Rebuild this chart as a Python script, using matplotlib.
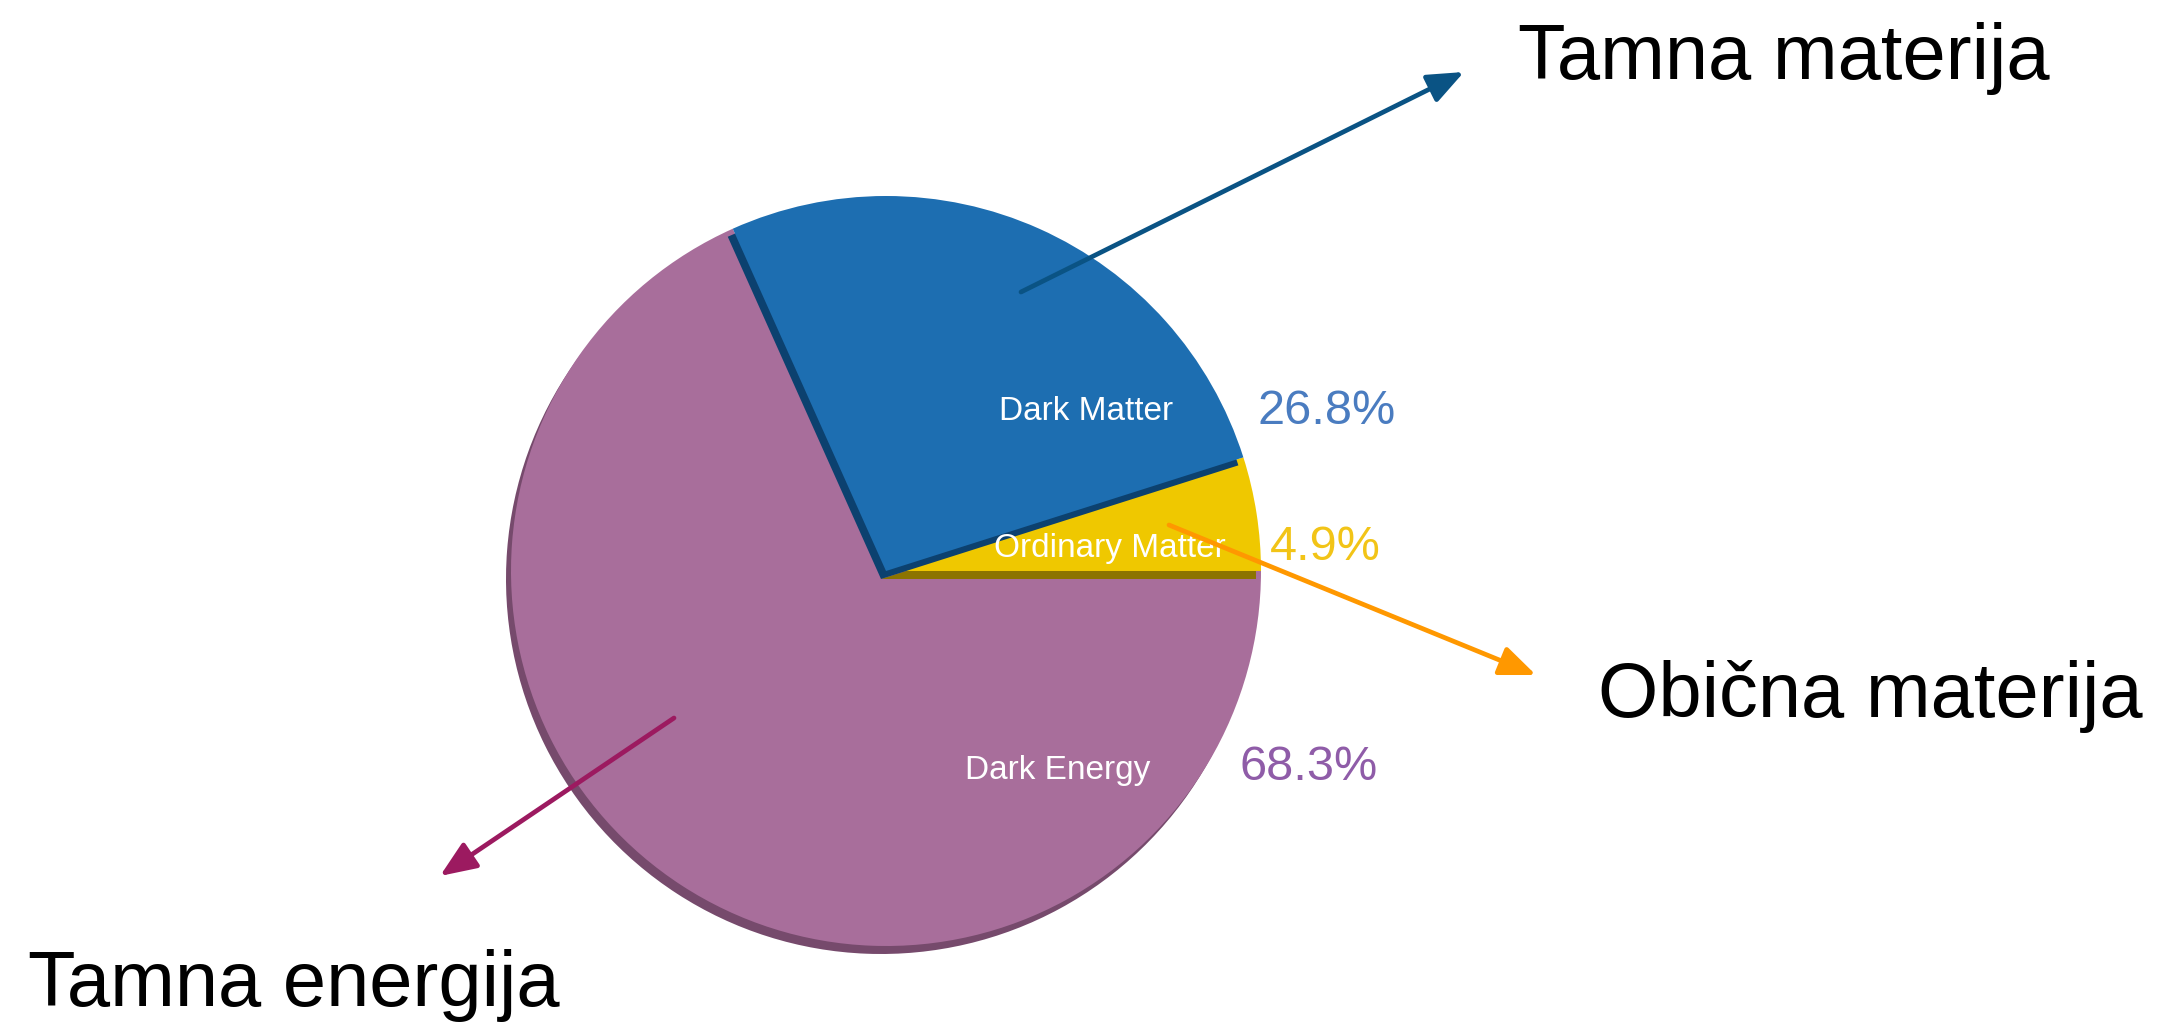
import matplotlib.pyplot as plt
from matplotlib.patches import FancyArrowPatch

# composition of the universe (percent)
shares = [4.9, 26.8, 68.3]
names = ["Ordinary Matter", "Dark Matter", "Dark Energy"]
pct_labels = ["4.9%", "26.8%", "68.3%"]
callouts = ["Obična materija", "Tamna materija", "Tamna energija"]

face_colors = ["#efc800", "#1d6eb1", "#a86e9b"]
shade_colors = ["#8c7400", "#0c416f", "#764a6c"]
pct_colors = ["#f2c417", "#4a7cc0", "#8f5ca8"]
arrow_colors = ["#ff9800", "#0a5384", "#9c1a60"]

W, H = 2170, 1023
fig = plt.figure(figsize=(W / 100, H / 100), dpi=100)
ax = fig.add_axes([0, 0, 1, 1])

cx, cy, r = 886, H - 571, 375
wp = dict(linewidth=0)
shadow, _ = ax.pie(shares, radius=r, center=(cx - 5, cy - 8), colors=shade_colors,
                   startangle=0, counterclock=True, wedgeprops=wp)
pie, _ = ax.pie(shares, radius=r, center=(cx, cy), colors=face_colors,
                startangle=0, counterclock=True, wedgeprops=wp)

# stack the slices so each one casts its shadow on the one drawn before
for z, i in enumerate([2, 0, 1]):
    shadow[i].set_zorder(2 * z + 1)
    pie[i].set_zorder(2 * z + 2)

ax.set_xlim(0, W)
ax.set_ylim(0, H)
ax.set_aspect("equal")
ax.axis("off")

small = ["Liberation Sans", "DejaVu Sans"]
name_pos = [(994, 549), (999, 412), (965, 771)]
pct_pos = [(1270, 547), (1257, 411), (1239, 768)]
for i in range(3):
    x, y = name_pos[i]
    ax.text(x, H - y, names[i], color="white", fontsize=24, family=small,
            ha="left", va="center", zorder=10)
    x, y = pct_pos[i]
    ax.text(x, H - y, pct_labels[i], color=pct_colors[i], fontsize=35,
            family=small, ha="left", va="center", zorder=10)

# call-out arrows and their captions
arrow_ends = [((1169, 525), (1536, 675)),
              ((1021, 292), (1464, 72)),
              ((674, 718), (440, 876))]
caption_pos = [(1598, 717), (1518, 79), (28, 1006)]
for i in range(3):
    (x0, y0), (x1, y1) = arrow_ends[i]
    arr = FancyArrowPatch((x0, H - y0), (x1, H - y1),
                          arrowstyle="-|>,head_length=1.1,head_width=0.45",
                          mutation_scale=20, color=arrow_colors[i],
                          linewidth=3.4, shrinkA=0, shrinkB=0, zorder=12)
    ax.add_patch(arr)
    x, y = caption_pos[i]
    ax.text(x, H - y, callouts[i], color="black", fontsize=56, family=small,
            ha="left", va="baseline", zorder=12)

fig.savefig("out.png", dpi=100)
